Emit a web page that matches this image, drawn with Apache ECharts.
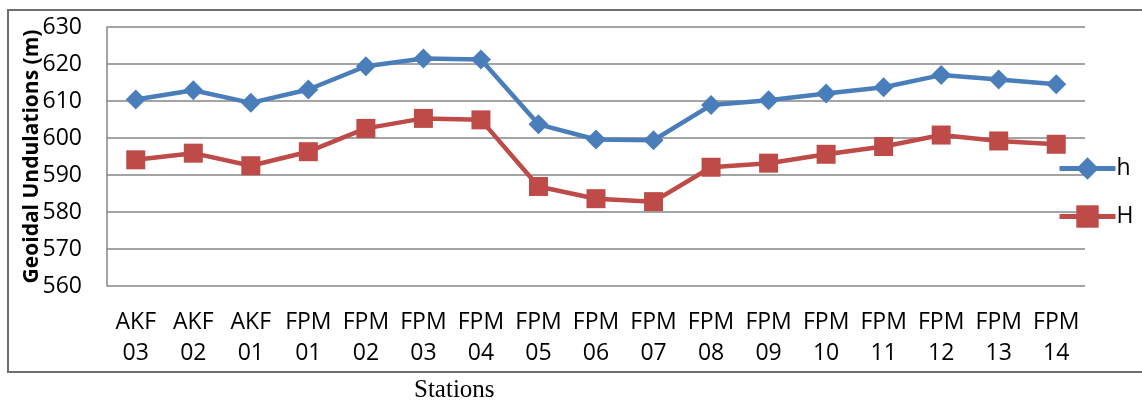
<!DOCTYPE html>
<html>
<head>
<meta charset="utf-8">
<script src="https://cdn.jsdelivr.net/npm/echarts@6/dist/echarts.min.js"></script>
<style>
  html, body { margin: 0; padding: 0; background: #fff; }
  #chart { width: 1142px; height: 401px; }
</style>
</head>
<body>
<div id="chart"></div>
<script>
// stations along the x axis (two-line labels)
var stations = ['AKF\n03', 'AKF\n02', 'AKF\n01', 'FPM\n01', 'FPM\n02', 'FPM\n03', 'FPM\n04', 'FPM\n05', 'FPM\n06',
  'FPM\n07', 'FPM\n08', 'FPM\n09', 'FPM\n10', 'FPM\n11', 'FPM\n12', 'FPM\n13', 'FPM\n14'];
// ellipsoidal height h
var hValues = [610.4, 612.9, 609.5, 613.1, 619.4, 621.5, 621.2, 603.7, 599.6, 599.4, 608.9, 610.2, 612.0, 613.7, 617.0, 615.8, 614.5];
// orthometric height H
var HValues = [594.1, 595.9, 592.5, 596.3, 602.6, 605.3, 604.9, 586.9, 583.6, 582.8, 592.1, 593.2, 595.6, 597.7, 600.8, 599.2, 598.3];

var blue = '#4a7ebb';
var red = '#be4b48';
var font = '"Open Sans", "Liberation Sans", sans-serif';

var myChart = echarts.init(document.getElementById('chart'));
myChart.setOption({
  backgroundColor: '#fff',
  animation: false,
  grid: { left: 107, top: 27, width: 978, height: 259 },
  legend: {
    left: 1052,
    top: 152,
    orient: 'vertical',
    itemGap: 25,
    itemWidth: 56,
    itemHeight: 28,
    lineStyle: { width: 5 },
    textStyle: { fontSize: 23, color: '#000', fontFamily: font, padding: [0, 0, 0, -4] },
    data: ['h', 'H']
  },
  xAxis: {
    type: 'category',
    data: stations,
    boundaryGap: true,
    axisLine: { show: false },
    axisTick: { show: false },
    axisLabel: {
      interval: 0,
      margin: 21,
      color: '#000',
      fontSize: 23,
      lineHeight: 31,
      fontFamily: font
    }
  },
  yAxis: {
    type: 'value',
    min: 560,
    max: 630,
    interval: 10,
    name: 'Geoidal Undulations (m)',
    nameLocation: 'middle',
    nameGap: 64,
    nameMoveOverlap: false,
    nameTextStyle: { fontSize: 21, fontWeight: 'bold', color: '#000', fontFamily: font },
    axisLine: { show: true, lineStyle: { color: '#868686', width: 1.5 } },
    axisTick: { show: false },
    axisLabel: { color: '#000', fontSize: 23, margin: 25, fontFamily: font },
    splitLine: { lineStyle: { color: '#868686', width: 1.5 } }
  },
  series: [
    {
      name: 'h',
      type: 'line',
      data: hValues,
      symbol: 'diamond',
      symbolSize: 20,
      color: blue,
      lineStyle: { width: 4.5, color: blue },
      itemStyle: { color: blue }
    },
    {
      name: 'H',
      type: 'line',
      data: HValues,
      symbol: 'rect',
      symbolSize: 19,
      color: red,
      lineStyle: { width: 4.5, color: red },
      itemStyle: { color: red }
    }
  ],
  graphic: [
    {
      type: 'rect',
      shape: { x: 8, y: 10, width: 1150, height: 362 },
      style: { fill: null, stroke: '#6f6f6f', lineWidth: 2 },
      z: -1
    },
    {
      type: 'text',
      left: 414,
      top: 378,
      style: { text: 'Stations', fontSize: 25, fontFamily: '"Liberation Serif", serif', fill: '#000' }
    }
  ]
});
</script>
</body>
</html>
